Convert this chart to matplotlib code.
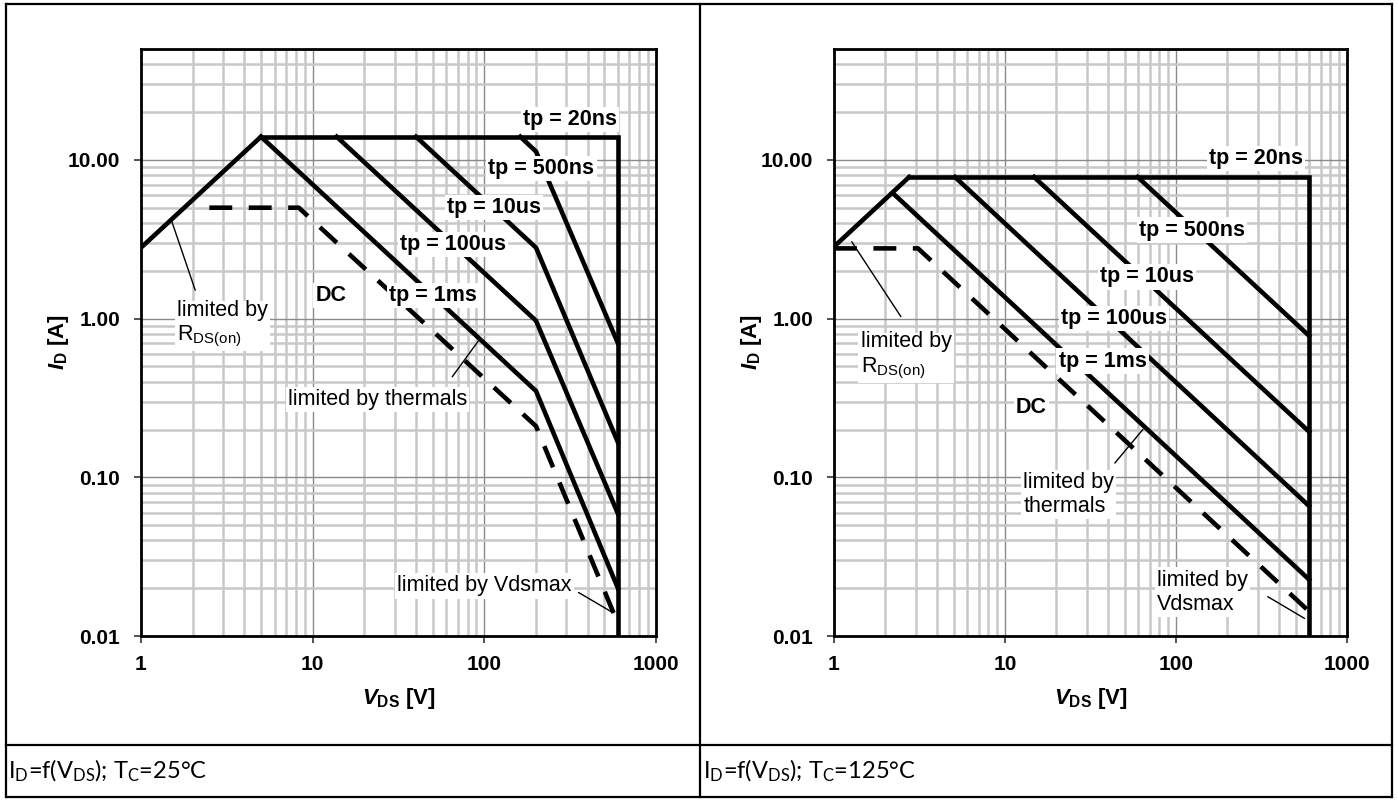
import numpy as np
import matplotlib
matplotlib.use('Agg')
import matplotlib.pyplot as plt
from matplotlib.lines import Line2D
from matplotlib.ticker import FixedLocator, LogLocator, NullFormatter

plt.rcParams['font.family'] = ['Liberation Sans', 'DejaVu Sans']
plt.rcParams['mathtext.fontset'] = 'custom'
plt.rcParams['mathtext.it'] = 'Liberation Sans:italic:bold'
plt.rcParams['mathtext.rm'] = 'Liberation Sans'

# axis ticks
x_ticks = [1, 10, 100, 1000]
x_tick_labels = ['1', '10', '100', '1000']
y_ticks = [0.01, 0.1, 1, 10]
y_tick_labels = ['0.01', '0.10', '1.00', '10.00']

# Tc = 25 C  (V_DS in V, I_D in A)
rds25_v = [1, 5]
rds25_i = [2.8, 14]
tp20ns25_v = [5, 600, 600]
tp20ns25_i = [14, 14, 0.01]
tp500ns25_v = [162, 200, 600]
tp500ns25_i = [14, 11.3, 0.70]
tp10us25_v = [40, 200, 600]
tp10us25_i = [14, 2.8, 0.166]
tp100us25_v = [13.8, 200, 600]
tp100us25_i = [14, 0.97, 0.059]
tp1ms25_v = [5, 200, 600]
tp1ms25_i = [14, 0.35, 0.020]
dc25_v = [2.5, 8.3, 200, 600]
dc25_i = [5.0, 5.0, 0.21, 0.012]

# Tc = 125 C
rds125_v = [1, 2.75]
rds125_i = [2.84, 7.8]
tp20ns125_v = [2.75, 600, 600]
tp20ns125_i = [7.8, 7.8, 0.01]
tp500ns125_v = [59.7, 600]
tp500ns125_i = [7.8, 0.78]
tp10us125_v = [14.8, 600]
tp10us125_i = [7.8, 0.194]
tp100us125_v = [5.1, 600]
tp100us125_i = [7.8, 0.066]
tp1ms125_v = [2.2, 600]
tp1ms125_i = [6.2, 0.0227]
dc125_v = [1, 3.1, 600]
dc125_i = [2.77, 2.77, 0.0143]

W, H = 1398, 800
fig = plt.figure(figsize=(W / 100, H / 100), dpi=100)


def px_rect(x0, x1, ytop, ybot):
    return [x0 / W, 1 - ybot / H, (x1 - x0) / W, (ybot - ytop) / H]


def setup(ax):
    ax.set_xscale('log')
    ax.set_yscale('log')
    ax.set_xlim(1, 1000)
    ax.set_ylim(0.01, 50)
    ax.xaxis.set_major_locator(FixedLocator(x_ticks))
    ax.set_xticklabels(x_tick_labels)
    ax.yaxis.set_major_locator(FixedLocator(y_ticks))
    ax.set_yticklabels(y_tick_labels)
    for a in (ax.xaxis, ax.yaxis):
        a.set_minor_locator(LogLocator(base=10, subs=np.arange(2, 10), numticks=20))
        a.set_minor_formatter(NullFormatter())
    ax.grid(which='major', color='#8a8a8a', lw=1.0)
    ax.grid(which='minor', color='#c8c8c8', lw=1.8)
    ax.set_axisbelow(True)
    ax.tick_params(which='major', direction='out', length=5, width=1.3,
                   labelsize=15, color='#444444')
    ax.tick_params(axis='x', which='major', pad=9)
    ax.tick_params(axis='y', which='major', pad=10)
    ax.tick_params(which='minor', length=0)
    for lbl in ax.get_xticklabels() + ax.get_yticklabels():
        lbl.set_fontweight('bold')
    for s in ax.spines.values():
        s.set_linewidth(2.0)
        s.set_color('black')
    ax.set_xlabel(r'$V_{\mathregular{DS}}$ [V]', fontsize=16, fontweight='bold', labelpad=8)
    ax.set_ylabel(r'$I_{\mathregular{D}}$ [A]', fontsize=16, fontweight='bold', labelpad=-2)


def solid(ax, v, i):
    ax.plot(v, i, color='black', lw=3.3, solid_joinstyle='miter', zorder=3)


def dashed(ax, v, i):
    ax.plot(v, i, color='black', lw=3.3, linestyle=(0, (5, 3.6)),
            dash_capstyle='butt', zorder=3)


box = dict(facecolor='white', edgecolor='none', pad=1.5)


def label(ax, x, y, s, bold=True, ha='center'):
    ax.text(x, y, s, fontsize=15.5, fontweight='bold' if bold else 'normal',
            ha=ha, va='center', bbox=box, zorder=5)


def leader(ax, p0, p1):
    ax.annotate('', xy=p1, xytext=p0,
                arrowprops=dict(arrowstyle='-', color='black', lw=1.0,
                                shrinkA=0, shrinkB=0), zorder=6)


# ---- Tc = 25 C ----
ax1 = fig.add_axes(px_rect(141, 656, 49, 636))
setup(ax1)
solid(ax1, rds25_v, rds25_i)
solid(ax1, tp20ns25_v, tp20ns25_i)
solid(ax1, tp500ns25_v, tp500ns25_i)
solid(ax1, tp10us25_v, tp10us25_i)
solid(ax1, tp100us25_v, tp100us25_i)
solid(ax1, tp1ms25_v, tp1ms25_i)
dashed(ax1, dc25_v, dc25_i)

label(ax1, 315, 17.9, 'tp = 20ns')
label(ax1, 215, 8.86, 'tp = 500ns')
label(ax1, 114, 5.02, 'tp = 10us')
label(ax1, 65.9, 2.94, 'tp = 100us')
label(ax1, 50, 1.40, 'tp = 1ms')
label(ax1, 12.8, 1.40, 'DC')
label(ax1, 1.62, 0.92, 'limited by\n' + r'$\mathregular{R_{DS(on)}}$', bold=False, ha='left')
label(ax1, 23.8, 0.31, 'limited by thermals', bold=False)
label(ax1, 100, 0.0207, 'limited by Vdsmax', bold=False)
leader(ax1, (1.5, 4.2), (2.07, 1.51))
leader(ax1, (65, 0.43), (92, 0.72))
leader(ax1, (354, 0.0188), (563, 0.014))

# ---- Tc = 125 C ----
ax2 = fig.add_axes(px_rect(834, 1347, 49, 636))
setup(ax2)
solid(ax2, rds125_v, rds125_i)
solid(ax2, tp20ns125_v, tp20ns125_i)
solid(ax2, tp500ns125_v, tp500ns125_i)
solid(ax2, tp10us125_v, tp10us125_i)
solid(ax2, tp100us125_v, tp100us125_i)
solid(ax2, tp1ms125_v, tp1ms125_i)
dashed(ax2, dc125_v, dc125_i)

label(ax2, 294, 10.2, 'tp = 20ns')
label(ax2, 124, 3.61, 'tp = 500ns')
label(ax2, 67.9, 1.83, 'tp = 10us')
label(ax2, 43.3, 1.0, 'tp = 100us')
label(ax2, 37.2, 0.54, 'tp = 1ms')
label(ax2, 14.3, 0.274, 'DC')
label(ax2, 1.43, 0.58, 'limited by\n' + r'$\mathregular{R_{DS(on)}}$', bold=False, ha='left')
label(ax2, 12.8, 0.078, 'limited by\nthermals', bold=False, ha='left')
label(ax2, 77.4, 0.0189, 'limited by\nVdsmax', bold=False, ha='left')
leader(ax2, (1.27, 3.05), (2.46, 1.03))
leader(ax2, (43.9, 0.123), (64, 0.2))
leader(ax2, (344, 0.0177), (565, 0.0129))

# ---- table frame and captions ----
frame = [((6, 1392), (4, 4)), ((6, 1392), (797, 797)), ((6, 6), (4, 797)),
         ((1392, 1392), (4, 797)), ((700, 700), (4, 797)), ((6, 1392), (745, 745))]
for xs, ys in frame:
    fig.add_artist(Line2D([x / W for x in xs], [1 - y / H for y in ys],
                          transform=fig.transFigure, color='black', lw=1.6))

fig.text(8 / W, 1 - 771 / H,
         r'$\mathregular{I_D}$=f($\mathregular{V_{DS}}$); $\mathregular{T_C}$=25°C',
         family='Lato', fontsize=17, va='center')
fig.text(703 / W, 1 - 771 / H,
         r'$\mathregular{I_D}$=f($\mathregular{V_{DS}}$); $\mathregular{T_C}$=125°C',
         family='Lato', fontsize=17, va='center')

fig.savefig('out.png', dpi=100)
